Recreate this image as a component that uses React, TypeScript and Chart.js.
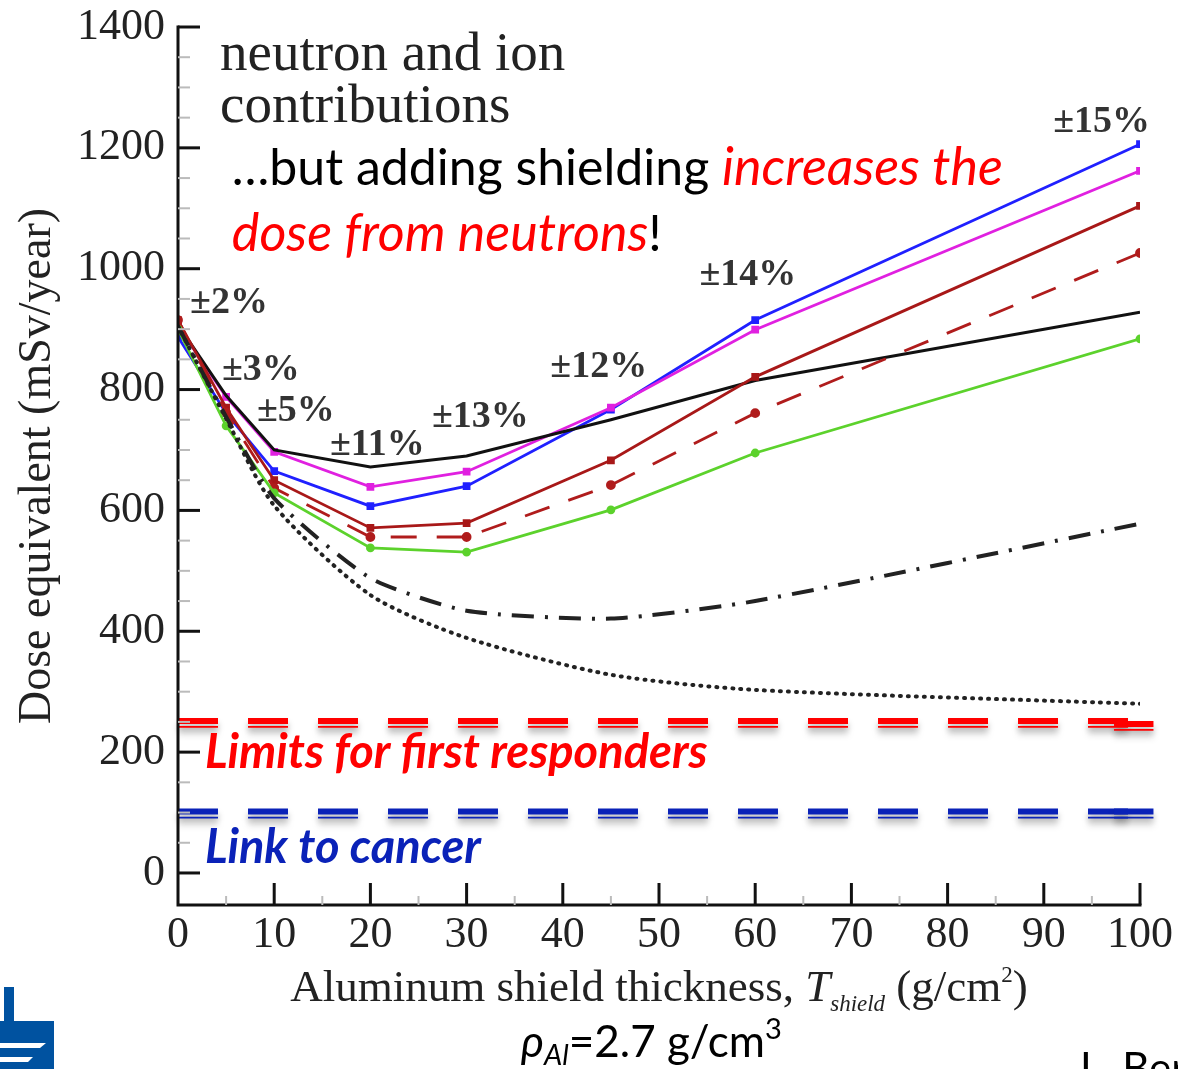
import { useEffect, useRef } from "react";
import { Chart, registerables } from "chart.js";

Chart.register(...registerables);

// Aluminum shield thickness (g/cm^2) at which doses were computed
const thickness = [0, 5, 10, 20, 30, 45, 60, 100];

// Dose equivalent (mSv/year) per model / contribution
const blueSeries = [887, 761, 665, 607, 640, 767, 915, 1206];
const magentaSeries = [905, 788, 697, 639, 664, 770, 899, 1162];
const blackSolid = [907, 790, 700, 672, 690, 750, 815, 928];
const redSolid = [915, 770, 650, 571, 579, 683, 821, 1104];
const redDashed = [915, 762, 637, 556, 556, 642, 761, 1026];
const greenSeries = [900, 740, 629, 538, 531, 601, 695, 884];
const blackDashDot = [905, 755, 620, 488, 434, 421, 450, 578];
const blackDotted = [905, 752, 608, 460, 389, 328, 303, 280];

// Axis ticks
const yMajorTicks = [0, 200, 400, 600, 800, 1000, 1200, 1400];
const yMinorTicks = [50, 100, 150, 250, 300, 350, 450, 500, 550, 650, 700, 750, 850, 900, 950, 1050, 1100, 1150, 1250, 1300, 1350];
const xMajorTicks = [10, 20, 30, 40, 50, 60, 70, 80, 90, 100];
const xMinorTicks = [5, 15, 25, 35, 45, 55, 65, 75, 85, 95];

// Uncertainty labels placed next to the curves (x, y in data units)
const errorLabels = ["±2%", "±3%", "±5%", "±11%", "±13%", "±12%", "±14%", "±15%"];
const errorLabelX = [1.25, 4.57, 8.21, 15.8, 26.4, 38.7, 54.2, 90.97];
const errorLabelY = [927, 816, 748, 692, 738, 821, 973, 1226];

// Reference dose levels (mSv/year)
const limitValues = [250, 100];
const limitLabels = ["Limits for first responders", "Link to cancer"];
const limitColors = ["#ff0000", "#0a22b8"];

const SERIF = '"Liberation Serif", "Times New Roman", serif';
const SANS = 'Lato, "Noto Sans", sans-serif';

type Run = { text: string; font: string; color: string; dy?: number };

function drawRuns(ctx: CanvasRenderingContext2D, x: number, y: number, runs: Run[], align: "left" | "center" = "left") {
  ctx.save();
  ctx.textAlign = "left";
  ctx.textBaseline = "alphabetic";
  let total = 0;
  for (const r of runs) {
    ctx.font = r.font;
    total += ctx.measureText(r.text).width;
  }
  let cx = align === "center" ? x - total / 2 : x;
  for (const r of runs) {
    ctx.font = r.font;
    ctx.fillStyle = r.color;
    ctx.fillText(r.text, cx, y + (r.dy || 0));
    cx += ctx.measureText(r.text).width;
  }
  ctx.restore();
}

const decorPlugin = {
  id: "decor",
  afterDatasetsDraw(chart: any) {
    const ctx: CanvasRenderingContext2D = chart.ctx;
    const xs = chart.scales.x;
    const ys = chart.scales.y;
    // double dashed reference lines with a soft shadow
    const x0 = xs.getPixelForValue(0);
    const xDashEnd = xs.getPixelForValue(99.2);
    const xTailStart = xs.getPixelForValue(97.3);
    const xTailEnd = xs.getPixelForValue(101.4);
    limitValues.forEach((v, i) => {
      const y = ys.getPixelForValue(v);
      ctx.save();
      ctx.strokeStyle = limitColors[i];
      ctx.shadowColor = "rgba(0,0,0,0.35)";
      ctx.shadowBlur = 6;
      ctx.shadowOffsetY = 6;
      const stroke = (dy: number, w: number) => {
        ctx.lineWidth = w;
        ctx.setLineDash([40, 30]);
        ctx.beginPath();
        ctx.moveTo(x0, y + dy);
        ctx.lineTo(xDashEnd, y + dy);
        ctx.stroke();
        ctx.setLineDash([]);
        ctx.beginPath();
        ctx.moveTo(xTailStart, y + dy + (i === 0 ? 3 : 0));
        ctx.lineTo(xTailEnd, y + dy + (i === 0 ? 3 : 0));
        ctx.stroke();
      };
      stroke(-1, 6);
      stroke(5, 1.8);
      ctx.restore();
    });
  },
  afterDraw(chart: any) {
    const ctx: CanvasRenderingContext2D = chart.ctx;
    const xs = chart.scales.x;
    const ys = chart.scales.y;
    const area = chart.chartArea;
    const left = area.left;
    const bottom = area.bottom;

    // axis lines
    ctx.save();
    ctx.strokeStyle = "#111";
    ctx.lineWidth = 3;
    ctx.lineCap = "square";
    ctx.beginPath();
    ctx.moveTo(left, ys.getPixelForValue(1400));
    ctx.lineTo(left, bottom);
    ctx.lineTo(xs.getPixelForValue(100), bottom);
    ctx.stroke();

    // inward ticks
    ctx.lineCap = "butt";
    ctx.strokeStyle = "#bbb";
    ctx.lineWidth = 2;
    for (const v of yMinorTicks) {
      const y = ys.getPixelForValue(v);
      ctx.beginPath();
      ctx.moveTo(left, y);
      ctx.lineTo(left + 12, y);
      ctx.stroke();
    }
    for (const v of xMinorTicks) {
      const x = xs.getPixelForValue(v);
      ctx.beginPath();
      ctx.moveTo(x, bottom);
      ctx.lineTo(x, bottom - 9);
      ctx.stroke();
    }
    ctx.strokeStyle = "#111";
    ctx.lineWidth = 3;
    for (const v of yMajorTicks) {
      const y = ys.getPixelForValue(v);
      ctx.beginPath();
      ctx.moveTo(left, y);
      ctx.lineTo(left + 22, y);
      ctx.stroke();
    }
    for (const v of xMajorTicks) {
      const x = xs.getPixelForValue(v);
      ctx.beginPath();
      ctx.moveTo(x, bottom);
      ctx.lineTo(x, bottom - 22);
      ctx.stroke();
    }
    ctx.restore();

    // uncertainty labels
    ctx.save();
    ctx.font = `bold 38px ${SERIF}`;
    ctx.fillStyle = "#333";
    ctx.textBaseline = "alphabetic";
    errorLabels.forEach((t, i) => {
      ctx.fillText(t, xs.getPixelForValue(errorLabelX[i]), ys.getPixelForValue(errorLabelY[i]));
    });
    ctx.restore();

    // annotation text
    drawRuns(ctx, xs.getPixelForValue(4.37), ys.getPixelForValue(1329), [
      { text: "neutron and ion", font: `55px ${SERIF}`, color: "#222" },
    ]);
    drawRuns(ctx, xs.getPixelForValue(4.37), ys.getPixelForValue(1243), [
      { text: "contributions", font: `55px ${SERIF}`, color: "#222" },
    ]);
    drawRuns(ctx, xs.getPixelForValue(5.6), ys.getPixelForValue(1138), [
      { text: "\u2026but adding shielding ", font: `50px ${SANS}`, color: "#000" },
      { text: "increases the", font: `italic 52px ${SANS}`, color: "#ff0000" },
    ]);
    drawRuns(ctx, xs.getPixelForValue(5.6), ys.getPixelForValue(1029), [
      { text: "dose from neutrons", font: `italic 52px ${SANS}`, color: "#ff0000" },
      { text: "!", font: `50px ${SANS}`, color: "#000" },
    ]);
    drawRuns(ctx, xs.getPixelForValue(2.8), ys.getPixelForValue(174), [
      { text: limitLabels[0], font: `italic bold 47px ${SANS}`, color: limitColors[0] },
    ]);
    drawRuns(ctx, xs.getPixelForValue(2.8), ys.getPixelForValue(16), [
      { text: limitLabels[1], font: `italic bold 47px ${SANS}`, color: limitColors[1] },
    ]);

    // x axis title with subscript / superscript
    const cx = (xs.getPixelForValue(0) + xs.getPixelForValue(100)) / 2;
    drawRuns(ctx, cx, bottom + 96, [
      { text: "Aluminum shield thickness, ", font: `45px ${SERIF}`, color: "#222" },
      { text: "T", font: `italic 45px ${SERIF}`, color: "#222" },
      { text: "shield", font: `italic 23px ${SERIF}`, color: "#222", dy: 10 },
      { text: " (g/cm", font: `45px ${SERIF}`, color: "#222" },
      { text: "2", font: `23px ${SERIF}`, color: "#222", dy: -19 },
      { text: ")", font: `45px ${SERIF}`, color: "#222" },
    ], "center");

    // density note
    drawRuns(ctx, xs.getPixelForValue(49.2), bottom + 152, [
      { text: "\u03C1", font: `italic 44px ${SANS}`, color: "#000" },
      { text: "Al", font: `italic 29px ${SANS}`, color: "#000", dy: 8 },
      { text: "=2.7 g/cm", font: `44px ${SANS}`, color: "#000" },
      { text: "3", font: `29px ${SANS}`, color: "#000", dy: -18 },
    ], "center");

    // author credit at the page edge
    drawRuns(ctx, 1080, chart.height + 14, [
      { text: "L. Ber", font: `42px ${SANS}`, color: "#000" },
    ]);
  },
};

function pts(values: number[]) {
  return thickness.map((x, i) => ({ x, y: values[i] }));
}

export default function App() {
  const canvasRef = useRef<HTMLCanvasElement | null>(null);

  useEffect(() => {
    const canvas = canvasRef.current;
    if (!canvas) return;
    const marker = (color: string, style: string, r: number) => ({
      borderColor: color,
      backgroundColor: color,
      pointBackgroundColor: color,
      pointBorderColor: color,
      pointStyle: style,
      pointRadius: r,
      borderWidth: 2.8,
    });
    const chart = new Chart(canvas, {
      type: "line",
      data: {
        datasets: [
          { label: "dotted", data: pts(blackDotted), borderColor: "#222", borderWidth: 4, borderDash: [1, 7], borderCapStyle: "round", pointRadius: 0, tension: 0.25 },
          { label: "dash-dot", data: pts(blackDashDot), borderColor: "#222", borderWidth: 4, borderDash: [22, 11, 3, 11], pointRadius: 0, tension: 0.2 },
          { label: "green", data: pts(greenSeries), ...marker("#5cd22c", "circle", 3) },
          { label: "red dashed", data: pts(redDashed), ...marker("#b01c1c", "circle", 3.5), borderDash: [26, 20] },
          { label: "red", data: pts(redSolid), ...marker("#a81818", "rect", 3.5) },
          { label: "black", data: pts(blackSolid), borderColor: "#111", borderWidth: 3, pointRadius: 0 },
          { label: "magenta", data: pts(magentaSeries), ...marker("#e020e0", "rect", 3.5) },
          { label: "blue", data: pts(blueSeries), ...marker("#2020ff", "rect", 3.5) },
        ],
      },
      options: {
        animation: false,
        responsive: false,
        events: [],
        layout: { padding: { left: 0, top: 27, right: 38, bottom: 0 } },
        plugins: { legend: { display: false }, tooltip: { enabled: false } },
        scales: {
          x: {
            type: "linear",
            min: 0,
            max: 100,
            ticks: { stepSize: 10, color: "#222", font: { family: SERIF, size: 44 }, padding: 4, maxRotation: 0 },
            grid: { display: false, drawTicks: false },
            border: { display: false },
            afterFit: (s: any) => { s.height = 164; },
          },
          y: {
            type: "linear",
            min: -53,
            max: 1400,
            afterBuildTicks: (s: any) => { s.ticks = yMajorTicks.map((v) => ({ value: v })); },
            ticks: { color: "#222", font: { family: SERIF, size: 44 }, padding: 13, callback: (v: any) => String(v) },
            grid: { display: false, drawTicks: false },
            border: { display: false },
            title: {
              display: true,
              text: "Dose equivalent (mSv/year)",
              color: "#222",
              font: { family: SERIF, size: 46 },
              padding: { top: 10, bottom: 0 },
            },
            afterFit: (s: any) => { s.width = 178; s.paddingTop = 0; s.paddingBottom = 0; },
          },
        },
      },
      plugins: [decorPlugin],
    } as any);
    return () => chart.destroy();
  }, []);

  return (
    <div style={{ position: "absolute", left: 0, top: 0, width: 1178, height: 1069, background: "#fff", overflow: "hidden" }}>
      <canvas ref={canvasRef} width={1178} height={1069} style={{ display: "block" }} />
      <svg width="56" height="84" viewBox="0 0 56 84" style={{ position: "absolute", left: 0, top: 985 }}>
        <rect x="4" y="2" width="10" height="36" fill="#0052a0" />
        <polygon points="0,36 54,36 54,84 0,84" fill="#0052a0" />
        <polygon points="0,58 46,58 40,63 0,63" fill="#fff" />
        <polygon points="0,72 33,72 28,77 0,77" fill="#fff" />
      </svg>
    </div>
  );
}
